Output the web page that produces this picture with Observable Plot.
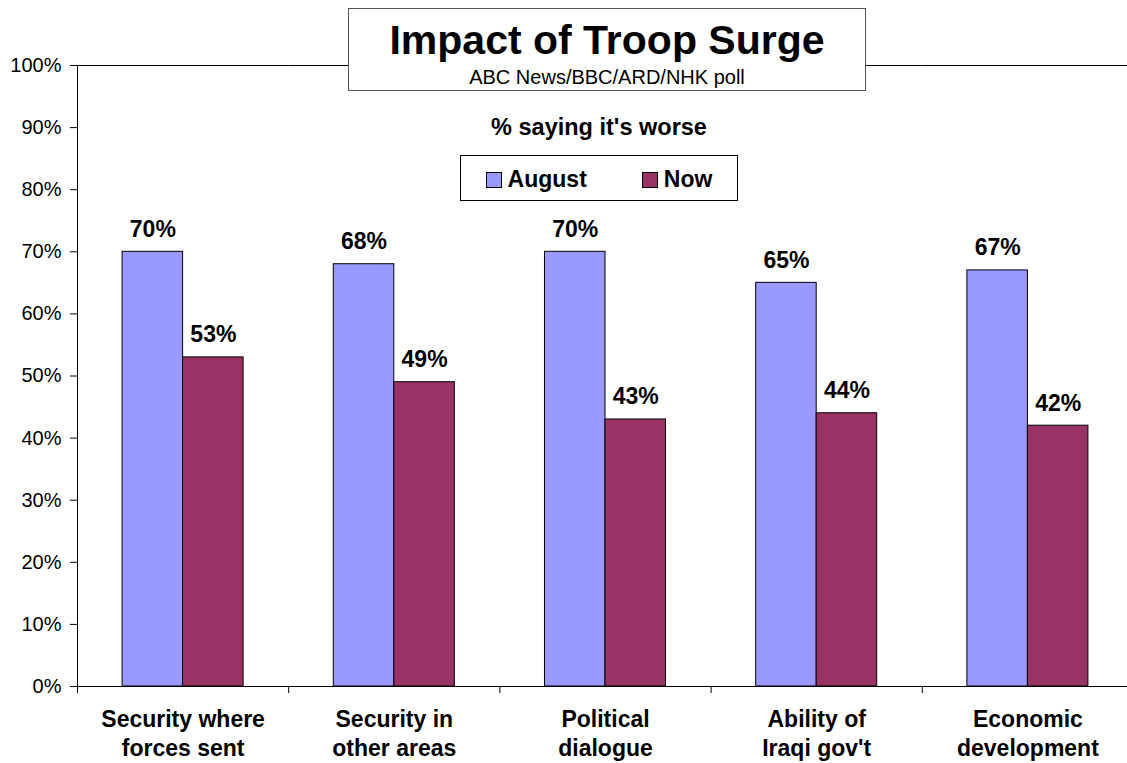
<!DOCTYPE html>
<html>
<head>
<meta charset="utf-8">
<script src="https://cdn.jsdelivr.net/npm/d3@7"></script>
<script src="https://cdn.jsdelivr.net/npm/@observablehq/plot@0.6"></script>
<style>
  html, body { margin: 0; padding: 0; background: #fff; overflow: hidden; }
  #wrap { position: relative; width: 1127px; height: 763px; overflow: hidden;
          font-family: "Liberation Sans", Arial, sans-serif; color: #000; }
  #chart svg { max-width: none !important; display: block; }
  .abs { position: absolute; white-space: nowrap; }
  .titlebox { left: 348px; top: 8px; width: 518px; height: 83px; box-sizing: border-box;
              border: 1px solid #555; background: #fff; }
  .title { left: 348px; width: 518px; top: 20px; text-align: center; font-size: 41px;
           line-height: 41px; font-weight: bold; }
  .subtitle { left: 348px; width: 518px; top: 67px; text-align: center; font-size: 20px; line-height: 20px; }
  .caption { left: 460px; width: 278px; top: 116px; text-align: center; font-size: 23.5px;
             line-height: 23.5px; font-weight: bold; }
  .legend { left: 460px; top: 155px; width: 278px; height: 46px; box-sizing: border-box;
            border: 1px solid #000; background: #fff; display: flex; align-items: center;
            justify-content: center; font-size: 23px; font-weight: bold; padding-top: 3px; }
  .legend .item { display: flex; align-items: center; }
  .legend .item + .item { margin-left: 55px; }
  .legend .sw { width: 16px; height: 16px; box-sizing: border-box; border: 1px solid #000; margin-right: 6px; }
</style>
</head>
<body>
<div id="wrap">
  <div id="chart"></div>
  <div class="abs titlebox"></div>
  <div class="abs title" id="title"></div>
  <div class="abs subtitle" id="subtitle"></div>
  <div class="abs caption" id="caption"></div>
  <div class="abs legend" id="legend"></div>
</div>
<script>
// ---- data ----
const titleText = "Impact of Troop Surge";
const subtitleText = "ABC News/BBC/ARD/NHK poll";
const captionText = "% saying it's worse";
const categories = [
  "Security where forces sent",
  "Security in other areas",
  "Political dialogue",
  "Ability of Iraqi gov't",
  "Economic development"
];
const categoryLabels = [
  "Security where\nforces sent",
  "Security in\nother areas",
  "Political\ndialogue",
  "Ability of\nIraqi gov't",
  "Economic\ndevelopment"
];
const series = ["August", "Now"];
const augustValues = [70, 68, 70, 65, 67];
const nowValues = [53, 49, 43, 44, 42];
const seriesColors = ["#9999FF", "#993366"];
const yTicks = [0, 10, 20, 30, 40, 50, 60, 70, 80, 90, 100];

// ---- table ----
const rows = [];
categories.forEach((c, i) => {
  rows.push({category: c, series: series[0], value: augustValues[i]});
  rows.push({category: c, series: series[1], value: nowValues[i]});
});

// ---- layout ----
const W = 1133, H = 763, ML = 77, MR = 0, MT = 65, MB = 77;
const step = (W - ML - MR) / categories.length;
const font = '"Liberation Sans", Arial, sans-serif';

const chart = Plot.plot({
  width: W, height: H,
  marginLeft: ML, marginRight: MR, marginTop: MT, marginBottom: MB,
  style: {fontFamily: font, fontSize: "20px", color: "#000", background: "transparent", overflow: "visible", maxWidth: "none"},
  fx: {domain: categories, padding: 0, round: false, label: null},
  x: {domain: series, paddingInner: 0, paddingOuter: 0.745, round: false, axis: null},
  y: {domain: [0, 100]},
  color: {domain: series, range: seriesColors},
  marks: [
    Plot.barY(rows, {fx: "category", x: "series", y: "value", fill: "series", stroke: "#000", strokeWidth: 1}),
    Plot.ruleY([0, 100], {stroke: "#000", strokeWidth: 1}),
    Plot.frame({anchor: "left", facetAnchor: "left", stroke: "#000", strokeWidth: 1}),
    Plot.axisY({ticks: yTicks, tickFormat: d => `${d}%`, tickSize: 7, tickPadding: 9, fontSize: 20, label: null, stroke: "#000"}),
    Plot.axisFx({anchor: "bottom", tickSize: 0, tickPadding: 20, label: null,
      tickFormat: d => categoryLabels[categories.indexOf(d)],
      fontSize: 23, fontWeight: "bold", lineHeight: 1.27}),
    Plot.axisFx({anchor: "bottom", tickSize: 7, tickFormat: () => "", label: null, dx: -step / 2, stroke: "#000"}),
    Plot.text(rows, {fx: "category", x: "series", y: "value", text: d => `${d.value}%`,
      dy: -15, lineAnchor: "bottom", fontSize: 23, fontWeight: "bold", fill: "#000"})
  ]
});
document.getElementById("chart").appendChild(chart);

document.getElementById("title").textContent = titleText;
document.getElementById("subtitle").textContent = subtitleText;
document.getElementById("caption").textContent = captionText;
const legend = document.getElementById("legend");
series.forEach((s, i) => {
  const item = document.createElement("div");
  item.className = "item";
  const sw = document.createElement("div");
  sw.className = "sw";
  sw.style.background = seriesColors[i];
  const label = document.createElement("span");
  label.textContent = s;
  item.appendChild(sw);
  item.appendChild(label);
  legend.appendChild(item);
});
</script>
</body>
</html>
